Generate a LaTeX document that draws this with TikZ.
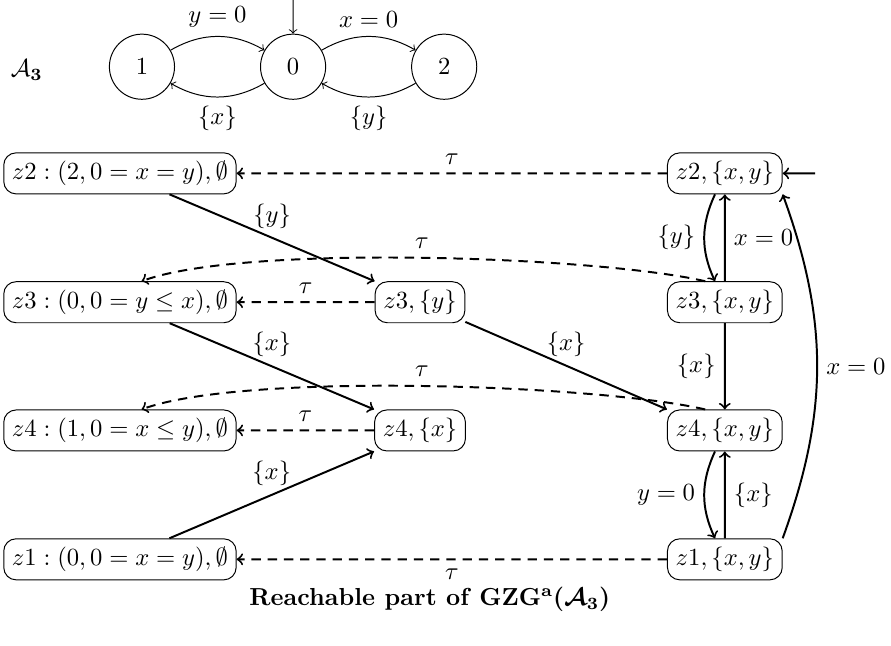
\documentclass[tikz,border=0pt]{standalone}
\usepackage{amsmath}
\usetikzlibrary{positioning}
\tikzset{
  >=to,
  state/.style={circle,draw,minimum size=0.93cm},
  zone/.style={draw,rounded corners=5pt},
  trans/.style={->,thick},
  tau/.style={->,thick,dash pattern=on 3.8pt off 2.8pt},
}

\begin{document}
\begin{tikzpicture}[scale=0.934]
\useasboundingbox (0,0) rectangle (13.62,-9.86);

% the automaton A3
\node (aname) at (0.41,-1.07) {$\mathcal{A}_{\mathbf{3}}$};
\node[state] (s0) at (4.48,-1.02) {$0$};
\node[state] (s1) at (2.17,-1.02) {$1$};
\node[state] (s2) at (6.79,-1.02) {$2$};
\coordinate (init) at (4.48,0);
\draw[->] (init) -- (s0);
\draw[->] (s1) to[bend left] node[above]{$y=0$} (s0);
\draw[->] (s0) to[bend left] node[below]{$\{x\}$} (s1);
\draw[->] (s0) to[bend left] node[above]{$x=0$} (s2);
\draw[->] (s2) to[bend left] node[below]{$\{y\}$} (s0);

% zones, left column
\node[zone,anchor=west] (l2) at (0.05,-2.65) {$z2 : (2, 0 = x = y), \emptyset$};
\node[zone,anchor=west] (l3) at (0.05,-4.62) {$z3 : (0, 0 = y \leq x), \emptyset$};
\node[zone,anchor=west] (l4) at (0.05,-6.58) {$z4 : (1, 0 = x \leq y), \emptyset$};
\node[zone,anchor=west] (l1) at (0.05,-8.55) {$z1 : (0, 0 = x = y), \emptyset$};
% middle column
\node[zone] (m3) at (6.42,-4.62) {$z3, \{y\}$};
\node[zone] (m4) at (6.42,-6.58) {$z4, \{x\}$};
% right column
\node[zone] (r2) at (11.08,-2.65) {$z2, \{x, y\}$};
\node[zone] (r3) at (11.08,-4.62) {$z3, \{x, y\}$};
\node[zone] (r4) at (11.08,-6.58) {$z4, \{x, y\}$};
\node[zone] (r1) at (11.08,-8.55) {$z1, \{x, y\}$};
\coordinate (entry) at (12.46,-2.65);

% tau steps
\draw[tau] (r2) -- node[above]{$\tau$} (l2);
\draw[tau] (m3) -- node[above]{$\tau$} (l3);
\draw[tau] (m4) -- node[above]{$\tau$} (l4);
\draw[tau] (r1) -- node[below]{$\tau$} (l1);
\draw[tau] ([xshift=-3mm]r3.north) to[out=167,in=20,looseness=0.5] node[above]{$\tau$} ([xshift=3.3mm]l3.north);
\draw[tau] ([xshift=-3mm]r4.north) to[out=167,in=20,looseness=0.5] node[above]{$\tau$} ([xshift=3.3mm]l4.north);

% resets
\draw[trans] (l2) -- node[above]{$\{y\}$} (m3.north west);
\draw[trans] (l3) -- node[above]{$\{x\}$} (m4.north west);
\draw[trans] (l1) -- node[above]{$\{x\}$} (m4.south west);
\draw[trans] (m3) -- node[above]{$\{x\}$} (r4.north west);

% right column loop
\draw[trans] (entry) -- (r2);
\draw[trans] (r3) -- node[right]{$x=0$} (r2);
\draw[trans] (r2) to[bend right=25] node[left]{$\{y\}$} (r3);
\draw[trans] (r3) -- node[left]{$\{x\}$} (r4);
\draw[trans] (r1) -- node[right]{$\{x\}$} (r4);
\draw[trans] (r4) to[bend right=25] node[left]{$y=0$} (r1);
\draw[trans] (r1.north east) to[bend right=20] node[right]{$x=0$} (r2.south east);

\node (caption) at (6.57,-9.16) {\textbf{Reachable part of} {\boldmath$\mathbf{GZG^a}(\mathcal{A}_3)$}};
\end{tikzpicture}
\end{document}
